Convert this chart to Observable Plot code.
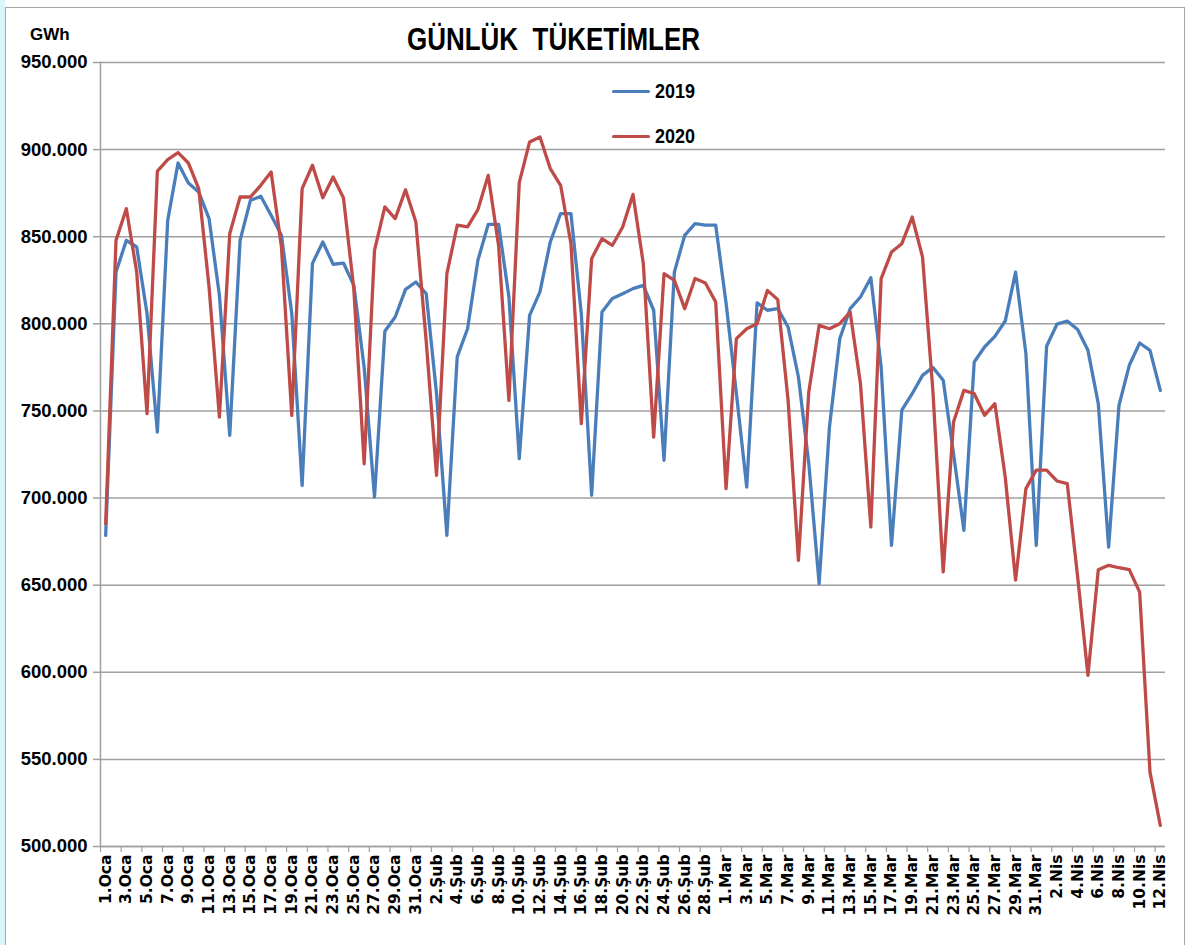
<!DOCTYPE html>
<html>
<head>
<meta charset="utf-8">
<script src="https://cdn.jsdelivr.net/npm/d3@7"></script>
<script src="https://cdn.jsdelivr.net/npm/@observablehq/plot@0.6"></script>
<style>
  html, body { margin: 0; padding: 0; background: #ffffff; }
  #wrap { position: relative; width: 1190px; height: 945px; overflow: hidden; }
  #strip { position: absolute; left: 0; top: 0; width: 5px; height: 945px; background: #dcf5fa; }
  #border { position: absolute; left: 5px; top: 7px; width: 1180px; height: 960px; border: 1.5px solid #a6a6a6; box-sizing: border-box; }
  #title { position: absolute; left: 407px; top: 21px; white-space: pre; transform-origin: 0 0;
           font-family: "Liberation Sans", "DejaVu Sans", sans-serif; font-weight: bold; font-size: 32px; color: #000; }
  #unit { position: absolute; left: 30px; top: 25px; font-family: "Liberation Sans", sans-serif;
          font-weight: bold; font-size: 17px; color: #000; }
  .leg { position: absolute; left: 612px; font-family: "Liberation Sans", sans-serif;
         font-weight: bold; font-size: 20px; color: #000; display: flex; align-items: center; }
  .leg span.sw { display: inline-block; width: 38px; height: 3px; border-radius: 1.5px; margin-right: 5px; }
  .leg span.tx { display: inline-block; transform: scaleX(0.9); transform-origin: 0 50%; }
  #chart { position: absolute; left: 0; top: 0; }
</style>
</head>
<body>
<div id="wrap">
  <div id="strip"></div>
  <div id="border"></div>
  <div id="chart"></div>
  <div id="title">GÜNLÜK  TÜKETİMLER</div>
  <div id="unit">GWh</div>
  <div class="leg" style="top:80px"><span class="sw" style="background:#4a7ebb"></span><span class="tx">2019</span></div>
  <div class="leg" style="top:125px"><span class="sw" style="background:#be4b48"></span><span class="tx">2020</span></div>
</div>
<script>
// Categories: month abbreviations and number of days shown
const months = [["Oca", 31], ["Şub", 29], ["Mar", 31], ["Nis", 12]];
const labels = months.flatMap(([m, n]) => d3.range(1, n + 1).map(d => `${d}.${m}`));

// Daily consumption, 2019
const v2019 = [
  678.6, 829.7, 847.9, 844.1, 805.9, 737.9, 859.4, 892.3, 880.8, 875.7,
  860.4, 816.4, 736.0, 847.9, 870.9, 873.2, 862.3, 850.8, 805.9, 707.3,
  834.7, 847.0, 834.2, 834.9, 822.1, 775.0, 700.6, 795.7, 803.9, 819.8,
  824.0, 817.3, 760.0, 678.6, 781.0, 797.2, 836.5, 857.1, 857.1, 815.4,
  722.6, 804.9, 818.3, 847.0, 863.3, 863.3, 805.9, 701.6, 806.8, 814.5,
  817.3, 820.2, 822.1, 807.8, 721.7, 829.7, 850.8, 857.5, 856.6, 856.6,
  812.0, 760.0, 706.3, 812.0, 807.8, 808.7, 798.2, 769.5, 720.0, 650.9,
  740.8, 791.5, 808.7, 815.4, 826.5, 775.2, 672.8, 750.4, 759.9, 770.4,
  775.0, 767.6, 725.5, 681.5, 778.1, 786.7, 792.8, 801.6, 829.7, 782.9,
  672.8, 787.1, 799.8, 801.6, 796.7, 784.8, 754.2, 671.9, 753.2, 776.2,
  789.0, 784.8, 761.8
];

// Daily consumption, 2020
const v2020 = [
  685.3, 847.9, 866.1, 829.7, 748.5, 887.7, 894.3, 898.3, 892.3, 877.6,
  821.1, 746.5, 851.8, 872.8, 872.8, 879.5, 887.1, 844.1, 747.5, 877.6,
  891.0, 872.4, 884.3, 872.2, 820.0, 719.7, 842.2, 867.1, 860.4, 877.0,
  858.4, 790.0, 713.0, 828.8, 856.6, 855.6, 865.6, 885.2, 845.0, 756.1,
  881.0, 904.4, 907.2, 889.1, 879.5, 846.0, 742.7, 837.4, 848.9, 845.0,
  855.6, 874.3, 834.5, 735.0, 828.8, 825.0, 808.7, 826.0, 823.4, 812.5,
  705.4, 791.5, 797.2, 800.1, 819.2, 813.9, 756.1, 664.2, 760.9, 799.1,
  797.2, 800.1, 806.8, 765.6, 683.4, 826.0, 841.2, 846.0, 861.3, 838.4,
  762.0, 657.6, 743.7, 761.8, 759.9, 747.5, 754.2, 712.1, 652.9, 705.4,
  716.0, 716.0, 709.8, 708.3, 655.0, 598.3, 658.9, 661.4, 660.0, 658.9,
  646.0, 542.7, 512.1
];

// Axis ticks
const yTicks = [500, 550, 600, 650, 700, 750, 800, 850, 900, 950];
const xTickLabels = labels.filter((d, i) => i % 2 === 0);

const rows = labels.map((d, i) => ({day: d, y2019: v2019[i], y2020: v2020[i]}));

const W = 1190, H = 945, ML = 100, MR = 25, MT = 62, MB = 99;
const step = (W - ML - MR) / labels.length;
const gray = "#a0a0a0";

const chart = Plot.plot({
  width: W,
  height: H,
  marginLeft: ML,
  marginRight: MR,
  marginTop: MT,
  marginBottom: MB,
  style: {background: "transparent"},
  x: {type: "point", domain: labels, padding: 0.5},
  y: {domain: [500, 950]},
  marks: [
    Plot.gridY(yTicks, {stroke: gray, strokeOpacity: 1, strokeWidth: 1.5}),
    Plot.frame({anchor: "left", stroke: gray, strokeWidth: 1.5}),
    Plot.ruleY([500], {stroke: gray, strokeWidth: 1.5}),
    Plot.axisY(yTicks, {
      tickSize: 7, tickPadding: 6, stroke: gray, strokeWidth: 1.5, fill: "#000",
      tickFormat: d3.format(".3f"), label: null,
      fontFamily: "Liberation Sans, sans-serif", fontWeight: "bold", fontSize: 18.5
    }),
    Plot.axisX(xTickLabels, {
      tickSize: 6, stroke: gray, strokeWidth: 1.2, tickFormat: () => "", label: null, dx: -step / 2
    }),
    Plot.axisX(xTickLabels, {
      tickSize: 0, tickPadding: 8, tickRotate: -90, label: null, fill: "#000",
      fontFamily: "DejaVu Sans, sans-serif", fontWeight: "bold", fontSize: 15.5
    }),
    Plot.line(rows, {x: "day", y: "y2019", stroke: "#4a7ebb", strokeWidth: 3.3, strokeLinejoin: "round"}),
    Plot.line(rows, {x: "day", y: "y2020", stroke: "#be4b48", strokeWidth: 3.3, strokeLinejoin: "round"})
  ]
});
document.getElementById("chart").appendChild(chart);

// Fit the title to the reference width
const title = document.getElementById("title");
const tw = title.getBoundingClientRect().width;
title.style.transform = `scaleX(${293 / tw})`;
</script>
</body>
</html>
